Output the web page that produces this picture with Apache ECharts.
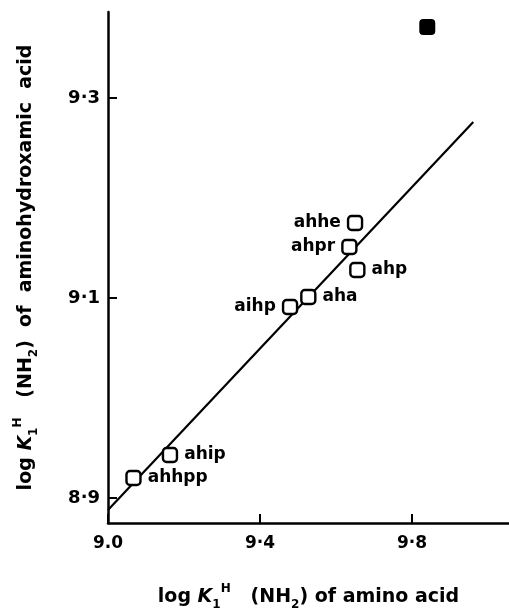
<!DOCTYPE html>
<html>
<head>
<meta charset="utf-8">
<script src="https://cdn.jsdelivr.net/npm/echarts@6/dist/echarts.min.js"></script>
<style>
  html, body { margin: 0; padding: 0; background: #fff; }
  #chart { width: 509px; height: 609px; }
</style>
</head>
<body>
<div id="chart"></div>
<script>
// ligand points
const names = ['ahhe', 'ahpr', 'ahp', 'aha', 'aihp', 'ahip', 'ahhpp']
const xVals = [9.650, 9.635, 9.656, 9.527, 9.479, 9.163, 9.067]
const yVals = [9.175, 9.151, 9.128, 9.101, 9.091, 8.943, 8.920]
const labelSide = ['left', 'left', 'right', 'right', 'left', 'right', 'right']

// the filled (outlier) point
const filledX = [9.840]
const filledY = [9.371]

// straight line through the points, its two ends
const lineX = [9.0, 9.961]
const lineY = [8.888, 9.276]

const xTicks = [9.0, 9.4, 9.8]
const xTickLabels = ['9.0', '9·4', '9·8']
const yTicks = [8.9, 9.1, 9.3]
const yTickLabels = ['8·9', '9·1', '9·3']

const font = 'DejaVu Sans'
const chart = echarts.init(document.getElementById('chart'))

const labelFor = (ticks, labels) => (v) => {
  const i = ticks.findIndex(t => Math.abs(t - v) < 1e-6)
  return i >= 0 ? labels[i] : ''
}

const nameRich = {
  i: { fontStyle: 'italic', fontSize: 19, fontWeight: 'bold', fontFamily: font, color: '#000', lineHeight: 28 },
  sub: { fontSize: 12, fontWeight: 'bold', fontFamily: font, color: '#000', lineHeight: 13, verticalAlign: 'bottom' },
  sup: { fontSize: 12, fontWeight: 'bold', fontFamily: font, color: '#000', lineHeight: 13, verticalAlign: 'top' },
}
const nameStyle = { fontSize: 19, fontWeight: 'bold', fontFamily: font, color: '#000', lineHeight: 28, rich: nameRich }

const axisLineStyle = { color: '#000', width: 2.5 }

const option = {
  backgroundColor: '#fff',
  animation: false,
  grid: { left: 108, top: 12, right: 0, bottom: 86, outerBoundsMode: 'none' },
  xAxis: {
    type: 'value',
    min: 9.0,
    max: 10.055,
    name: 'log {i|K}{sub|1}{sup|H}   (NH{sub|2}) of amino acid',
    nameLocation: 'middle',
    nameGap: 60,
    nameTextStyle: nameStyle,
    axisLine: { lineStyle: axisLineStyle },
    axisTick: { show: true, inside: true, length: 9, customValues: xTicks, lineStyle: { color: '#000', width: 2 } },
    axisLabel: { customValues: xTicks, formatter: labelFor(xTicks, xTickLabels), color: '#000', fontSize: 17, fontWeight: 'bold', fontFamily: font, margin: 12 },
    splitLine: { show: false },
  },
  yAxis: {
    type: 'value',
    min: 8.875,
    max: 9.386,
    name: 'log {i|K}{sub|1}{sup|H}   (NH{sub|2})  of  aminohydroxamic  acid',
    nameLocation: 'middle',
    nameRotate: 90,
    nameGap: 68,
    nameTextStyle: nameStyle,
    axisLine: { lineStyle: axisLineStyle },
    axisTick: { show: true, inside: true, length: 9, customValues: yTicks, lineStyle: { color: '#000', width: 2 } },
    axisLabel: { customValues: yTicks, formatter: labelFor(yTicks, yTickLabels), color: '#000', fontSize: 18, fontWeight: 'bold', fontFamily: font, margin: 8 },
    splitLine: { show: false },
  },
  series: [
    {
      type: 'line',
      data: lineX.map((x, i) => [x, lineY[i]]),
      symbol: 'none',
      lineStyle: { color: '#000', width: 2.2 },
      z: 1,
    },
    {
      type: 'scatter',
      data: names.map((n, i) => ({
        name: n,
        value: [xVals[i], yVals[i]],
        label: { position: labelSide[i] },
      })),
      symbol: 'roundRect',
      symbolSize: 14,
      itemStyle: { color: '#fff', borderColor: '#000', borderWidth: 2.4, opacity: 1 },
      label: {
        show: true,
        formatter: p => p.name,
        color: '#000',
        fontSize: 17,
        fontWeight: 'bold',
        fontFamily: font,
        distance: 6,
      },
      z: 3,
    },
    {
      type: 'scatter',
      data: filledX.map((x, i) => [x, filledY[i]]),
      symbol: 'roundRect',
      symbolSize: 16,
      itemStyle: { color: '#000', opacity: 1 },
      z: 3,
    },
  ],
}

chart.setOption(option)
</script>
</body>
</html>
